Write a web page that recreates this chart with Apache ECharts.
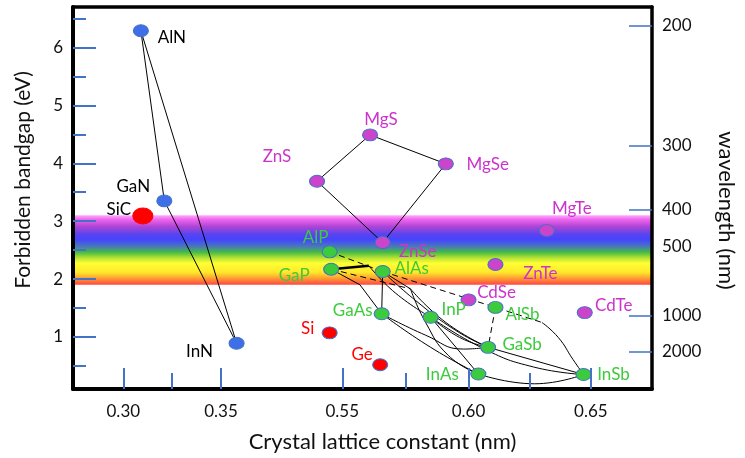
<!DOCTYPE html>
<html><head><meta charset="utf-8">
<script src="https://cdn.jsdelivr.net/npm/echarts@6/dist/echarts.min.js"></script>
<style>html,body{margin:0;padding:0;background:#fff}#c{width:745px;height:458px}</style>
</head><body><div id="c"></div>
<script>
// ================= DATA =================
const compounds = ['AlN','GaN','InN','SiC','Si','Ge','ZnS','MgS','MgSe','ZnSe','MgTe','ZnTe','CdSe','CdTe','AlP','GaP','AlAs','GaAs','InP','AlSb','GaSb','InAs','InSb'];
const latticeNm = [0.309,0.321,0.358,0.310,0.545,0.565,0.540,0.561,0.591,0.566,0.632,0.611,0.600,0.6475,0.545,0.5456,0.566,0.5656,0.585,0.611,0.608,0.604,0.647];
const bandgapEv = [6.29,3.35,0.89,3.09,1.07,0.52,3.69,4.49,3.99,2.63,2.84,2.25,1.64,1.42,2.47,2.17,2.13,1.40,1.34,1.51,0.82,0.36,0.35];
const family    = ['N','N','N','IV','IV','IV','II-VI','II-VI','II-VI','II-VI','II-VI','II-VI','II-VI','II-VI','III-V','III-V','III-V','III-V','III-V','III-V','III-V','III-V','III-V'];

// broken x axis: tick values and labels
const xTickValues = [0.30,0.35,0.55,0.60,0.65];
const xTickLabels = ['0.30','0.35','0.55','0.60','0.65'];
const xMinorValues = [0.325,0.575,0.625];
// bandgap axis ticks
const yTickValues = [1,2,3,4,5,6];
const yMinorValues = [0.5,1.5,2.5,3.5,4.5,5.5,6.5];
// wavelength axis (nm) and the bandgap where each label sits in the picture
const wlLabels = [200,300,400,500,1000,2000];
const wlAtEv   = [6.38,4.31,3.20,2.57,1.37,0.74];
const wlTicked = [200,300,400,1000,2000];
// visible light band (eV)
const visibleBand = [1.9,3.1];

// junction points of the alloy lines [lattice nm, eV]
const K1 = [0.5605,2.23], K2 = [0.557,1.90], K3 = [0.577,1.83], Kb = [0.630,1.25];
const connections = [
  {kind:'solid', nodes:['AlN','GaN']},
  {kind:'solid', nodes:['GaN','InN']},
  {kind:'solid', nodes:['AlN','InN']},
  {kind:'solid', nodes:['ZnS','MgS']},
  {kind:'solid', nodes:['MgS','MgSe']},
  {kind:'solid', nodes:['MgSe','ZnSe']},
  {kind:'solid', nodes:['ZnSe','ZnS']},
  {kind:'thick', nodes:['GaP',K1]},
  {kind:'curve', nodes:[K1,[0.571,1.76],'InP']},
  {kind:'solid', nodes:['GaP',K2,'GaAs']},
  {kind:'solid', nodes:['AlAs','GaAs']},
  {kind:'solid', nodes:['AlAs',K3]},
  {kind:'curve', nodes:[K3,[0.583,1.25],[0.592,0.68],'InAs']},
  {kind:'curve', nodes:[K3,[0.591,1.25],'GaSb']},
  {kind:'curve', nodes:['AlAs',[0.579,1.63],[0.595,1.11],'GaSb']},
  {kind:'curve', nodes:['GaAs',[0.583,1.03],[0.598,0.79],'GaSb']},
  {kind:'curve', nodes:['GaAs',[0.585,0.82],'InAs']},
  {kind:'solid', nodes:['InP','InAs']},
  {kind:'curve', nodes:['InP',[0.5965,0.99],'GaSb']},
  {kind:'curve', nodes:['InP',[0.6065,0.79],[0.6266,0.48],'InSb']},
  {kind:'solid', nodes:['GaSb','InSb']},
  {kind:'curve', nodes:['InAs',[0.627,0.19],'InSb']},
  {kind:'dashed', nodes:['AlP','AlAs']},
  {kind:'dashed', nodes:['GaP',K3]},
  {kind:'dashed', nodes:['AlAs','AlSb',Kb]},
  {kind:'dashed', nodes:['AlSb','GaSb']},
  {kind:'curve', nodes:[Kb,[0.6367,0.99],[0.6427,0.61],'InSb']}
];

// ================= LAYOUT / STYLE =================
const X_POS = [51,150,273,401,525];   // axis positions of xTickValues (broken axis)
const X_MAX = 587;
function xPos(lat){
  let a, b;
  if (lat < 0.45) { a = 0; b = 1; } else if (lat < 0.60) { a = 2; b = 3; } else { a = 3; b = 4; }
  return X_POS[a] + (lat - xTickValues[a]) * (X_POS[b] - X_POS[a]) / (xTickValues[b] - xTickValues[a]);
}
const FONT = 'Lato';
const TICK_BLUE = '#4472C4';
const labelOffset = {AlN:[31,7],GaN:[-31,-14],SiC:[-24,-6],InN:[-37,8],Si:[-22,-4],Ge:[-18,-10],
  GaAs:[-29,-3],InP:[23,-8],CdSe:[28,-7],AlSb:[27,7],GaSb:[34,-3],InAs:[-36,1],InSb:[30,0],CdTe:[29,-7],
  ZnTe:[45,9],MgTe:[25,-22],ZnSe:[35,9],AlP:[-14,-14],GaP:[-37,6],AlAs:[29,-3],ZnS:[-40,-25],MgS:[11,-15],MgSe:[42,1]};
const famStyle = {
  'N':     {fill:'#3F6FE8', text:'#000000'},
  'IV':    {fill:'#FF0000', text:'#FF0000'},
  'II-VI': {fill:'#CC44CC', text:'#CC33CC'},
  'III-V': {fill:'#3CCB3C', text:'#3CCB3C'}
};

function nodeXY(n){
  if (typeof n === 'string') { const i = compounds.indexOf(n); return [xPos(latticeNm[i]), bandgapEv[i]]; }
  return [xPos(n[0]), n[1]];
}

const series = [];
// visible-light band
series.push({
  type:'line', data:[], silent:true, z:1,
  markArea:{silent:true, itemStyle:{color:new echarts.graphic.LinearGradient(0,0,0,1,[
    {offset:0,color:'#FFA8FF'},{offset:0.06,color:'#EE66EE'},{offset:0.16,color:'#B044D4'},
    {offset:0.27,color:'#5A44EE'},{offset:0.35,color:'#4444FF'},{offset:0.45,color:'#4A7AB8'},
    {offset:0.53,color:'#44BB44'},{offset:0.62,color:'#BEE533'},{offset:0.69,color:'#FFFF33'},
    {offset:0.82,color:'#FFE82A'},{offset:0.91,color:'#FF9933'},{offset:1,color:'#FF4444'}])},
    data:[[{yAxis:visibleBand[1]},{yAxis:visibleBand[0]}]]}
});
// alloy lines
connections.forEach(c => {
  series.push({
    type:'line', silent:true, z:3, symbol:'none', animation:false,
    smooth: c.kind === 'curve' ? 0.5 : false,
    data: c.nodes.map(nodeXY),
    lineStyle:{color:'#000', width: c.kind === 'thick' ? 2.5 : 1, type: c.kind === 'dashed' ? [6,4] : 'solid'}
  });
});
// compounds
Object.keys(famStyle).forEach(f => {
  const st = famStyle[f];
  const data = [];
  compounds.forEach((name, i) => {
    if (family[i] !== f) return;
    data.push({
      name, value:[xPos(latticeNm[i]), bandgapEv[i]],
      symbolSize: name === 'SiC' ? [20,16] : [15,12],
      itemStyle: name === 'SiC' ? {borderColor:'#FF0000'} : undefined,
      label:{offset:labelOffset[name], color: name === 'SiC' ? '#000' : st.text}
    });
  });
  series.push({
    type:'scatter', z:5, data, symbol:'circle',
    itemStyle:{color:st.fill, borderColor:TICK_BLUE, borderWidth:1, opacity:1},
    label:{show:true, position:'inside', formatter:'{b}', fontFamily:FONT, fontSize:17, align:'center', verticalAlign:'middle'}
  });
});

const axisTextStyle = {fontFamily:FONT, fontSize:17, color:'#111'};
const option = {
  animation:false,
  backgroundColor:'#fff',
  grid:{left:73, right:85, top:7, bottom:66, containLabel:false},
  xAxis:[
    {type:'value', min:0, max:X_MAX, position:'bottom', z:10,
     name:'Crystal lattice constant (nm)', nameLocation:'middle', nameGap:42,
     nameTextStyle:{fontFamily:FONT, fontSize:22, color:'#111', padding:[0,0,0,40]},
     axisLine:{show:true, onZero:false, lineStyle:{color:'#000', width:4}},
     axisTick:{show:true, inside:true, length:21, lineStyle:{color:TICK_BLUE, width:2}, customValues:xTickValues.map(xPos)},
     axisLabel:{show:true, margin:14, ...axisTextStyle, customValues:xTickValues.map(xPos),
       formatter:v => { let k = 0, d = 1e9; xTickValues.forEach((t,i)=>{const e=Math.abs(xPos(t)-v); if(e<d){d=e;k=i;}}); return xTickLabels[k]; }},
     splitLine:{show:false}},
    {type:'value', min:0, max:X_MAX, position:'bottom', z:10,
     axisLine:{show:false}, axisLabel:{show:false}, splitLine:{show:false},
     axisTick:{show:true, inside:true, length:16, lineStyle:{color:TICK_BLUE, width:2}, customValues:xMinorValues.map(xPos)}},
    {type:'value', min:0, max:X_MAX, position:'top', z:10,
     axisLine:{show:true, onZero:false, lineStyle:{color:'#000', width:3.5}},
     axisTick:{show:false}, axisLabel:{show:false}, splitLine:{show:false}}
  ],
  yAxis:[
    {type:'value', min:0.1, max:6.7, position:'left', z:10,
     name:'Forbidden bandgap (eV)', nameLocation:'middle', nameGap:39, nameRotate:90,
     nameTextStyle:{fontFamily:FONT, fontSize:21, color:'#111', padding:[0,0,0,36]},
     axisLine:{show:true, onZero:false, lineStyle:{color:'#000', width:4}},
     axisTick:{show:true, inside:true, length:23, lineStyle:{color:TICK_BLUE, width:2}, customValues:yTickValues},
     axisLabel:{show:true, margin:10, ...axisTextStyle, customValues:yTickValues},
     splitLine:{show:false}},
    {type:'value', min:0.1, max:6.7, position:'left', z:10,
     axisLine:{show:false}, axisLabel:{show:false}, splitLine:{show:false},
     axisTick:{show:true, inside:true, length:13, lineStyle:{color:TICK_BLUE, width:2}, customValues:yMinorValues}},
    {type:'value', min:0.1, max:6.7, position:'right', z:10,
     name:'wavelength (nm)', nameLocation:'middle', nameGap:63, nameRotate:-90,
     nameTextStyle:{fontFamily:FONT, fontSize:22, color:'#111', padding:[0,0,0,25]},
     axisLine:{show:true, onZero:false, lineStyle:{color:'#000', width:3.5}},
     axisTick:{show:true, inside:true, length:23, lineStyle:{color:TICK_BLUE, width:1.5}, customValues:wlTicked.map(w => wlAtEv[wlLabels.indexOf(w)])},
     axisLabel:{show:true, margin:10, ...axisTextStyle, customValues:wlAtEv,
       formatter:v => { let k = 0, d = 1e9; wlAtEv.forEach((e,i)=>{const q=Math.abs(e-v); if(q<d){d=q;k=i;}}); return String(wlLabels[k]); }},
     splitLine:{show:false}}
  ],
  series
};
const chart = echarts.init(document.getElementById('c'), null, {renderer:'canvas'});
chart.setOption(option);
</script>
</body></html>
